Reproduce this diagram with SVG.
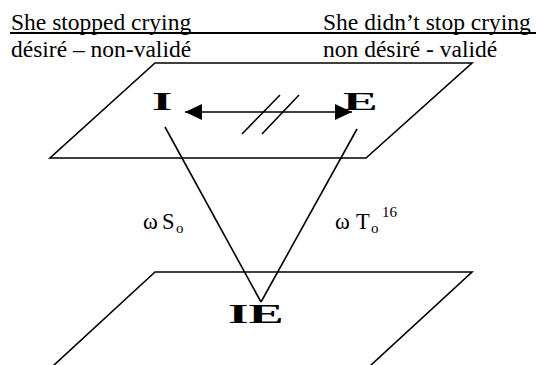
<svg xmlns="http://www.w3.org/2000/svg" width="536" height="365" viewBox="0 0 536 365">
<style>
.t{font-family:"Liberation Serif","Times New Roman",serif;fill:#000}
.h{font-size:23.5px}
.b{font-weight:bold;font-size:26px}
.l{font-size:22.5px}
.sub{font-size:15px}
.s{stroke:#000;stroke-width:1.6;fill:none}
</style>
<defs>
<marker id="ah" viewBox="0 0 17 16" refX="17" refY="8" markerWidth="17" markerHeight="16" markerUnits="userSpaceOnUse" orient="auto-start-reverse">
<path d="M0,0 L17,8 L0,16 Z" fill="#000"/>
</marker>
</defs>
<rect width="536" height="365" fill="#fff"/>
<g id="header">
<text class="t h" x="11" y="30">She stopped crying</text>
<text class="t h" x="323" y="30">She didn’t stop crying</text>
<line x1="10" y1="33" x2="536" y2="33" stroke="#000" stroke-width="2"/>
<text class="t h" x="11" y="57">désiré – non-validé</text>
<text class="t h" x="323" y="57">non désiré - validé</text>
</g>
<g id="upper-plane">
<polygon class="s" points="155,63 472,63 366,158 50,158"/>
</g>
<g id="lower-plane">
<polyline class="s" points="53,366 155,272 472,272 370,366"/>
</g>
<g id="node-I">
<text class="t b" transform="translate(152,110) scale(2,1)">I</text>
</g>
<g id="node-E">
<text class="t b" transform="translate(343,110) scale(2,1)">E</text>
</g>
<g id="node-IE">
<text class="t b" style="font-size:27px" transform="translate(228,323) scale(1.95,1)">IE</text>
</g>
<g id="connectors">
<line class="s" x1="185" y1="112" x2="352" y2="112" marker-start="url(#ah)" marker-end="url(#ah)"/>
<line class="s" x1="242" y1="134" x2="280" y2="95"/>
<line class="s" x1="262" y1="134" x2="299" y2="95"/>
<line class="s" x1="165" y1="127" x2="261" y2="302"/>
<line class="s" x1="357" y1="129" x2="261" y2="302"/>
</g>
<g id="labels">
<text class="t l" x="143" y="229">ω<tspan x="162">S</tspan><tspan class="sub" x="176" y="233">o</tspan></text>
<text class="t l" x="335" y="229">ω<tspan x="356">T</tspan><tspan class="sub" x="371" y="233">o</tspan><tspan class="sub" x="382" y="217">16</tspan></text>
</g>
</svg>
